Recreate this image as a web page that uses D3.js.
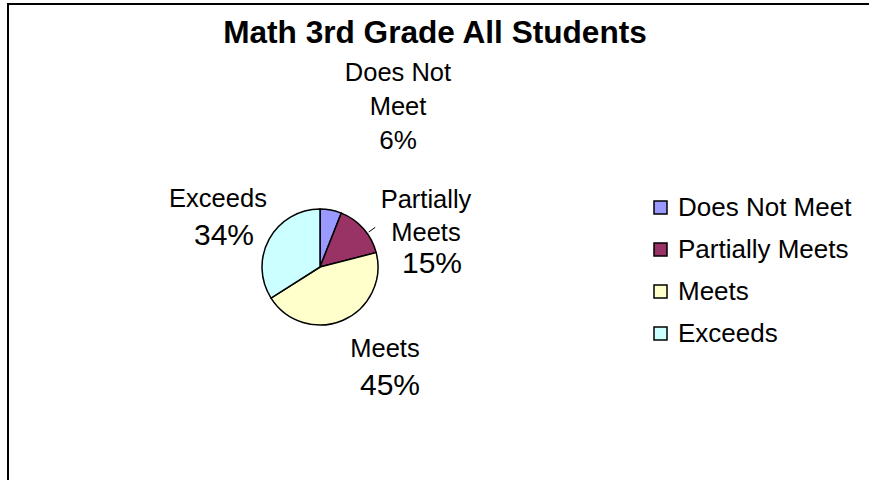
<!DOCTYPE html>
<html>
<head>
<meta charset="UTF-8">
<title>Math 3rd Grade All Students</title>
<script src="https://d3js.org/d3.v7.min.js"></script>
<style>
  body { margin: 0; background: #fff; overflow: hidden; }
  text { font-family: "Liberation Sans", Arial, sans-serif; fill: #000; }
</style>
</head>
<body>
<svg id="viz" width="869" height="480"></svg>
<script>
// data
var categories = ["Does Not Meet", "Partially Meets", "Meets", "Exceeds"];
var values = [6, 15, 45, 34];
var colors = ["#9999FF", "#993366", "#FFFFCC", "#CCFFFF"];
// slice labels, split the way the chart wraps them
var labelLines = [["Does Not", "Meet"], ["Partially", "Meets"], ["Meets"], ["Exceeds"]];

var svg = d3.select("#viz");

// outer frame (runs past the right and bottom edge)
svg.append("rect")
    .attr("x", 8).attr("y", 4)
    .attr("width", 900).attr("height", 520)
    .attr("fill", "none")
    .attr("stroke", "#000")
    .attr("stroke-width", 2);

svg.append("text")
    .attr("x", 435).attr("y", 43)
    .attr("text-anchor", "middle")
    .style("font-weight", "bold")
    .style("font-size", "31.6px")
    .text("Math 3rd Grade All Students");

var cx = 320, cy = 267, r = 58;
var g = svg.append("g").attr("transform", "translate(" + cx + "," + cy + ")");

var pie = d3.pie().sort(null).value(function(d) { return d; });
var arc = d3.arc().innerRadius(0).outerRadius(r);
var arcs = pie(values);

g.selectAll("path")
    .data(arcs)
  .enter().append("path")
    .attr("d", arc)
    .attr("fill", function(d, i) { return colors[i]; })
    .attr("stroke", "#000")
    .attr("stroke-width", 1.5);

// leader line for Partially Meets
var a1 = arcs[1], mid = (a1.startAngle + a1.endAngle) / 2 + 0.1;
g.append("line")
    .attr("x1", Math.sin(mid) * (r + 2)).attr("y1", -Math.cos(mid) * (r + 2))
    .attr("x2", Math.sin(mid) * (r + 10)).attr("y2", -Math.cos(mid) * (r + 10))
    .attr("stroke", "#000").attr("stroke-width", 1);

// label placement relative to pie centre: x centre, first baseline, line step, percent size
var labelPos = [
  {x: 78, y: -186, step: 34, pct: 26, px: 0},
  {x: 106, y: -59, step: 32.5, pct: 30, px: 6},
  {x: 65, y: 90, step: 38, pct: 30, px: 5},
  {x: -102, y: -60, step: 38, pct: 30, px: 6}
];

arcs.forEach(function(d, i) {
  var p = labelPos[i];
  var lines = labelLines[i];
  lines.forEach(function(s, k) {
    g.append("text")
        .attr("x", p.x).attr("y", p.y + k * p.step)
        .attr("text-anchor", "middle")
        .style("font-size", "25.5px")
        .text(s);
  });
  g.append("text")
      .attr("x", p.x + p.px).attr("y", p.y + lines.length * p.step)
      .attr("text-anchor", "middle")
      .style("font-size", p.pct + "px")
      .text(Math.round(d.data) + "%");
});

// legend
var legend = svg.append("g").attr("transform", "translate(654,207)");
var row = legend.selectAll("g")
    .data(categories)
  .enter().append("g")
    .attr("transform", function(d, i) { return "translate(0," + (i * 42) + ")"; });

row.append("rect")
    .attr("x", 0).attr("y", -6)
    .attr("width", 13).attr("height", 13)
    .attr("fill", function(d, i) { return colors[i]; })
    .attr("stroke", "#000")
    .attr("stroke-width", 1.5);

row.append("text")
    .attr("x", 24).attr("y", 9)
    .style("font-size", "26px")
    .text(function(d) { return d; });
</script>
</body>
</html>
